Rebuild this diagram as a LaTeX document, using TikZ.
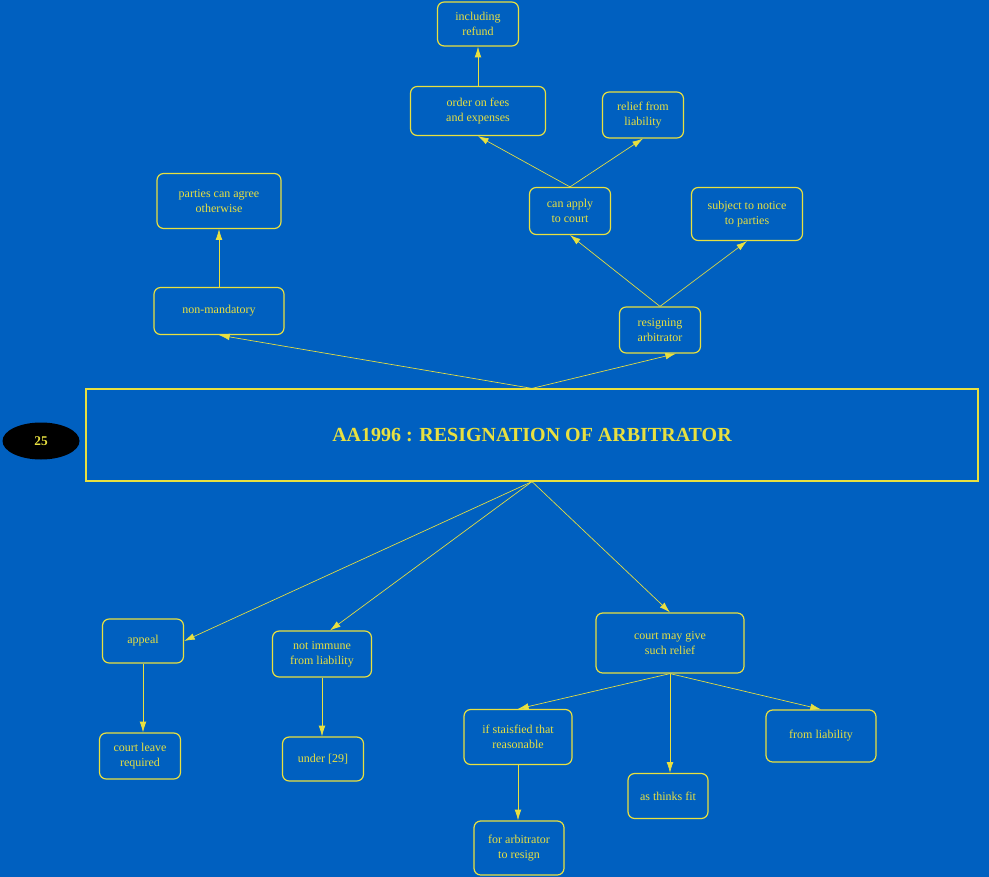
\documentclass[tikz,border=0pt]{standalone}
\usepackage{fontspec}
\setmainfont{Liberation Serif}
\usetikzlibrary{arrows.meta,shapes.geometric}
\definecolor{bg}{HTML}{0060C0}
\definecolor{yl}{HTML}{E8E040}
\begin{document}
\begin{tikzpicture}[x=0.75pt,y=-0.75pt,
 box/.style={draw=yl,rounded corners=5pt,line width=0.9pt,text=yl,font=\fontsize{9}{11}\selectfont,align=center,inner sep=0pt},
 arr/.style={draw=yl,line width=0.5pt,-{Latex[length=8pt,width=5pt]}}]
\fill[bg] (0,0) rectangle (989,877);
\useasboundingbox (0,0) rectangle (989,877);
\node[box,minimum width=60.75pt,minimum height=33pt] (ref) at (478,24) {including\\refund};
\node[box,minimum width=101.25pt,minimum height=36.75pt] (ord) at (478,111) {order on fees\\and expenses};
\node[box,minimum width=60.75pt,minimum height=34.5pt] (rel) at (643,115) {relief from\\liability};
\node[box,minimum width=93pt,minimum height=41.25pt] (par) at (219,201) {parties can agree\\otherwise};
\node[box,minimum width=60.75pt,minimum height=35.25pt] (can) at (570,211) {can apply\\to court};
\node[box,minimum width=83.25pt,minimum height=39.75pt] (sub) at (747,214) {subject to notice\\to parties};
\node[box,minimum width=97.5pt,minimum height=35.25pt] (non) at (219,311) {non-mandatory};
\node[box,minimum width=60.75pt,minimum height=34.5pt] (res) at (660,330) {resigning\\arbitrator};
\node[draw=yl,line width=0.9pt,minimum width=669pt,minimum height=69pt,text=yl,font=\bfseries\fontsize{15}{18}\selectfont] (main) at (532,435) {AA1996 : RESIGNATION OF ARBITRATOR};
\node[ellipse,fill=black,minimum width=57.75pt,minimum height=27.75pt,inner sep=0pt,text=yl,font=\bfseries\fontsize{10}{12}\selectfont] (num) at (41,441) {25};
\node[box,minimum width=60.75pt,minimum height=33pt] (app) at (143,641) {appeal};
\node[box,minimum width=74.25pt,minimum height=34.5pt] (imm) at (322,654) {not immune\\from liability};
\node[box,minimum width=111pt,minimum height=45pt] (cou) at (670,643) {court may give\\such relief};
\node[box,minimum width=60.75pt,minimum height=34.5pt] (lea) at (140,756) {court leave\\required};
\node[box,minimum width=60.75pt,minimum height=33pt] (und) at (323,759) {under [29]};
\node[box,minimum width=81pt,minimum height=41.25pt] (sat) at (518,737) {if staisfied that\\reasonable};
\node[box,minimum width=82.5pt,minimum height=39pt] (fro) at (821,736) {from liability};
\node[box,minimum width=60pt,minimum height=33.75pt] (fit) at (668,796) {as thinks fit};
\node[box,minimum width=67.5pt,minimum height=40.5pt] (fora) at (519,848) {for arbitrator\\to resign};
\draw[arr] (main.north) -- (non.south);
\draw[arr] (main.north) -- ([xshift=12pt]res.south);
\draw[arr] (res.north) -- (can.south);
\draw[arr] (res.north) -- (sub.south);
\draw[arr] (can.north) -- (ord.south);
\draw[arr] (can.north) -- (rel.south);
\draw[arr] (ord.north) -- (ref.south);
\draw[arr] (non.north) -- (par.south);
\draw[arr] (main.south) -- (app.east);
\draw[arr] (main.south) -- ([xshift=6pt]imm.north);
\draw[arr] (main.south) -- (cou.north);
\draw[arr] (app.south) -- (app.south|-lea.north);
\draw[arr] (imm.south) -- (imm.south|-und.north);
\draw[arr] (cou.south) -- (sat.north);
\draw[arr] (cou.south) -- (cou.south|-fit.north);
\draw[arr] (cou.south) -- (fro.north);
\draw[arr] (sat.south) -- (sat.south|-fora.north);
\end{tikzpicture}
\end{document}
